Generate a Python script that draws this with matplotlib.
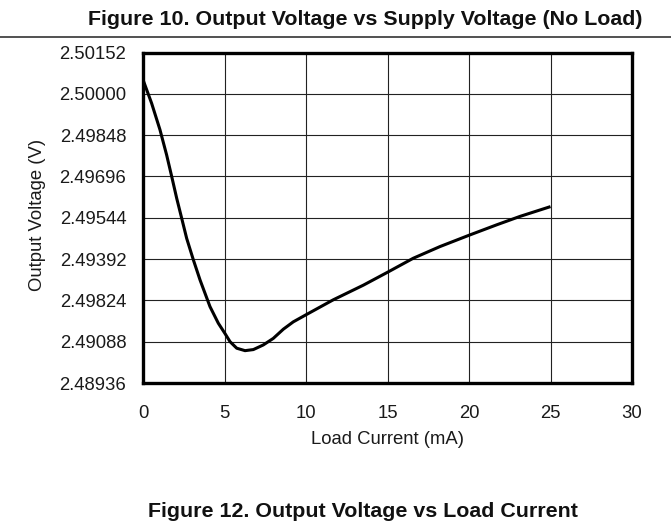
import matplotlib
matplotlib.use("Agg")
import matplotlib.pyplot as plt
from matplotlib.lines import Line2D

plt.rcParams['font.family'] = ['Liberation Sans', 'DejaVu Sans']

# Data
load_current = [0.0, 0.53, 1.04, 1.45, 1.76, 2.07, 2.37, 2.68, 3.09, 3.50, 4.11, 4.62,
                5.03, 5.34, 5.75, 6.26, 6.77, 7.38, 7.99, 8.61, 9.22, 10.0, 11.67,
                13.52, 15.05, 16.58, 18.22, 20.02, 21.7, 23.13, 25.0]
output_voltage = [2.50052, 2.49965, 2.49868, 2.49775, 2.49696, 2.49615, 2.49543, 2.49468,
                  2.49389, 2.49315, 2.49217, 2.49156, 2.49118, 2.49088, 2.49064, 2.49055,
                  2.49059, 2.49076, 2.49100, 2.49134, 2.49161, 2.49187, 2.49242, 2.49296,
                  2.49345, 2.49395, 2.49438, 2.49480, 2.49518, 2.49549, 2.49585]

y_tick_values = [2.48936, 2.49088, 2.49240, 2.49392, 2.49544, 2.49696, 2.49848, 2.50000, 2.50152]
y_tick_labels = ["2.48936", "2.49088", "2.49824", "2.49392", "2.49544", "2.49696",
                 "2.49848", "2.50000", "2.50152"]
x_ticks = [0, 5, 10, 15, 20, 25, 30]

W, H = 671, 529
fig = plt.figure(figsize=(W / 100, H / 100), dpi=100)
ax = fig.add_axes([143 / W, 1 - 383 / H, (632 - 143) / W, (383 - 52.5) / H])

ax.plot(load_current, output_voltage, color='black', lw=2.2, solid_capstyle='butt')

ax.set_xlim(0, 30)
ax.set_ylim(y_tick_values[0], y_tick_values[-1])
ax.set_xticks(x_ticks)
ax.set_xticklabels([str(t) for t in x_ticks])
ax.set_yticks(y_tick_values)
ax.set_yticklabels(y_tick_labels)
ax.tick_params(axis='both', length=0, labelsize=13.3, colors='#1a1a1a')
ax.tick_params(axis='x', pad=16)
ax.tick_params(axis='y', pad=12)
ax.grid(True, color='#222222', lw=0.8)
ax.set_axisbelow(True)
for s in ax.spines.values():
    s.set_linewidth(2.4)
    s.set_color('black')

ax.set_xlabel("Load Current (mA)", fontsize=13.3, color='#1a1a1a')
ax.set_ylabel("Output Voltage (V)", fontsize=13.3, color='#1a1a1a')
ax.xaxis.set_label_coords(0.5, (383 - 440) / (383 - 52.5))
ax.xaxis.label.set_va('center')
ax.yaxis.set_label_coords((37.5 - 143) / (632 - 143), 0.51)
ax.yaxis.label.set_va('center')

fig.text(642 / W, 1 - 25 / H, "Figure 10. Output Voltage vs Supply Voltage (No Load)",
         ha='right', va='baseline', fontsize=15.4, fontweight='bold', color='#111111')
fig.add_artist(Line2D([0, 1], [1 - 37 / H, 1 - 37 / H], transform=fig.transFigure,
                      color='#222222', lw=1.1))
fig.text(363 / W, 1 - 517 / H, "Figure 12. Output Voltage vs Load Current",
         ha='center', va='baseline', fontsize=15.4, fontweight='bold', color='#111111')

fig.savefig("out.png", dpi=100)
